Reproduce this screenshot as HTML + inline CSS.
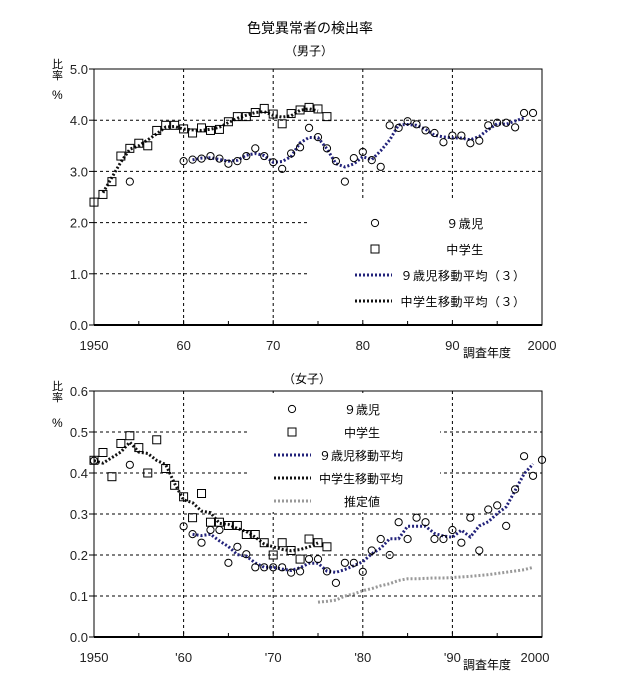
<!DOCTYPE html>
<html><head><meta charset="utf-8">
<style>
html,body{margin:0;padding:0;background:#fff;}
svg{display:block;font-family:"Liberation Sans","Noto Sans CJK JP",sans-serif;}
</style></head>
<body>
<svg id="s" width="618" height="689" viewBox="0 0 618 689" xmlns="http://www.w3.org/2000/svg">
<rect width="618" height="689" fill="#fff"/>
<text x="310" y="33" font-size="14" text-anchor="middle">色覚異常者の検出率</text>
<text x="309" y="55" font-size="12" text-anchor="middle">（男子）</text>
<text x="307" y="383" font-size="12" text-anchor="middle">（女子）</text>
<g id="g"></g>
</svg>
<script>
const NS="http://www.w3.org/2000/svg",g=document.getElementById('g');
function el(t,a,txt){const e=document.createElementNS(NS,t);for(const k in a)e.setAttribute(k,a[k]);if(txt!==undefined)e.textContent=txt;g.appendChild(e);return e;}
const X0=94,X1=542,XS=(X1-X0)/50;
function X(y){return X0+(y-1950)*XS;}
function ma(d){const r=[];for(let i=1;i<d.length-1;i++){r.push([d[i][0],(d[i-1][1]+d[i][1]+d[i+1][1])/3]);}return r;}
function chart(o){
 const Y=v=>o.y0+(v-o.vmin)/(o.vmax-o.vmin)*(o.y1-o.y0);
 o.hg.forEach(h=>{el('line',{x1:X0,y1:Y(h[0]),x2:h[1],y2:Y(h[0]),stroke:'#000','stroke-width':1,'stroke-dasharray':'3,3'});
   if(h[2])el('line',{x1:h[2],y1:Y(h[0]),x2:X1,y2:Y(h[0]),stroke:'#000','stroke-width':1,'stroke-dasharray':'3,3'});});
 [1960,1970,1980,1990].forEach(y=>el('line',{x1:X(y),y1:o.y1,x2:X(y),y2:o.y0,stroke:'#000','stroke-width':1,'stroke-dasharray':'3,3'}));
 el('rect',Object.assign({fill:'#fff'},o.leg));
 el('rect',{x:X0,y:o.y1,width:X1-X0,height:o.y0-o.y1,fill:'none',stroke:'#000','stroke-width':1});
 el('line',{x1:X0,y1:o.y0,x2:X1,y2:o.y0,stroke:'#000','stroke-width':2});
 for(let y=1950;y<=2000;y+=5){el('line',{x1:X(y),y1:o.y0,x2:X(y),y2:o.y0-(y%10?4:5),stroke:'#000'});}
 o.yt.forEach(v=>{el('line',{x1:X0-5,y1:Y(v),x2:X0,y2:Y(v),stroke:'#000'});
   el('text',{x:X0-6,y:Y(v)+5,'font-size':13,'text-anchor':'end',fill:'#222'},v.toFixed(1));});
 el('text',{x:52,y:o.y1-1,'font-size':11},'比');el('text',{x:52,y:o.y1+10,'font-size':11},'率');
 el('text',{x:52,y:o.y1+(o.pct),'font-size':12},'%');
 o.xl.forEach((t,i)=>el('text',{x:(i==5?o.x2000:X(1950+i*10)),y:o.y0+25,'font-size':13,'text-anchor':'middle',fill:'#222'},t));
 el('text',{x:463,y:o.y0+32,'font-size':12},'調査年度');
 function line(d,col,w){el('polyline',{points:d.map(p=>X(p[0])+','+Y(p[1])).join(' '),fill:'none',stroke:col,'stroke-width':w||3,'stroke-dasharray':'2,2'});}
 o.lines.forEach(l=>line(l[0],l[1]));
 o.sq.forEach(p=>el('rect',{x:X(p[0])-4,y:Y(p[1])-4,width:8,height:8,fill:'none',stroke:'#000','stroke-width':1}));
 o.ci.forEach(p=>el('circle',{cx:X(p[0]),cy:Y(p[1]),r:3.6,fill:'none',stroke:'#000','stroke-width':1}));
}
const topS=[2.4,2.55,2.8,3.3,3.45,3.55,3.5,3.8,3.9,3.9,3.83,3.75,3.85,3.8,3.82,3.97,4.07,4.07,4.15,4.23,4.12,3.93,4.13,4.2,4.25,4.22,4.07].map((v,i)=>[1950+i,v]);
const topC=[[1954,2.8]].concat([3.2,3.23,3.25,3.3,3.25,3.15,3.2,3.3,3.45,3.3,3.18,3.05,3.35,3.47,3.85,3.67,3.45,3.2,2.8,3.26,3.38,3.22,3.09,3.9,3.85,3.98,3.92,3.8,3.75,3.57,3.7,3.7,3.55,3.6,3.9,3.95,3.95,3.86,4.14,4.14].map((v,i)=>[1960+i,v]));
chart({y0:325,y1:69,vmin:0,vmax:5,yt:[0,1,2,3,4,5],pct:30,x2000:542,
 hg:[[4,X1],[3,X1],[2,310],[1,310]],leg:{x:312,y:200,width:228,height:123},
 xl:['1950','60','70','80','90','2000'],
 lines:[[ma(topS),'#111'],[ma(topC.slice(1)),'#22227a']],sq:topS,ci:topC});
const botS=[.431,.45,.391,.472,.491,.462,.40,.481,.411,.37,.342,.291,.35,.28,.28,.272,.272,.25,.25,.23,.20,.23,.211,.19,.239,.23,.22].map((v,i)=>[1950+i,v]);
const botC=[[1950,.43],[1954,.42]].concat([.27,.251,.23,.261,.261,.181,.22,.202,.17,.17,.17,.17,.157,.16,.19,.19,.16,.132,.181,.181,.159,.211,.239,.2,.28,.239,.291,.28,.239,.239,.261,.23,.291,.211,.311,.321,.271,.36,.441,.393,.432].map((v,i)=>[1960+i,v]));
const botCma=ma(botC.slice(2));
const est=[[1975,.085],[1976,.087],[1977,.09],[1978,.1],[1979,.105],[1980,.113],[1981,.118],[1982,.125],[1983,.13],[1984,.138],[1985,.142],[1986,.142],[1987,.143],[1988,.144],[1989,.144],[1990,.145],[1992,.148],[1994,.152],[1996,.158],[1998,.164],[1999,.17]];
const Sma=[[1950,.43]].concat(ma(botS));
chart({y0:637,y1:391,vmin:0,vmax:0.6,yt:[0,.1,.2,.3,.4,.5,.6],pct:36,x2000:535,
 hg:[[.5,250,438],[.4,250,438],[.3,X1],[.2,X1],[.1,X1]],leg:{x:266,y:393,width:174,height:119},
 xl:['1950',"'60","'70","'80","'90",'2000'],
 lines:[[est,'#999'],[Sma,'#111'],[botCma,'#22227a']],sq:botS,ci:botC});
function lg(items,fs,ls){items.forEach(it=>{
 if(it.t=='c')el('circle',{cx:it.x,cy:it.y,r:3.6,fill:'none',stroke:'#000'});
 else if(it.t=='s')el('rect',{x:it.x-4,y:it.y-4,width:8,height:8,fill:'none',stroke:'#000'});
 else el('line',{x1:it.x,y1:it.y,x2:it.x+37,y2:it.y,stroke:it.c,'stroke-width':3,'stroke-dasharray':'2,2'});
 el('text',{x:it.lx,y:it.y+5,'font-size':fs,'letter-spacing':ls,'text-anchor':'middle'},it.s);});}
lg([{t:'c',x:375,y:223,lx:465,s:'９歳児'},{t:'s',x:375,y:249,lx:465,s:'中学生'},
 {t:'l',x:355,y:275,c:'#22227a',lx:463,s:'９歳児移動平均（３）'},{t:'l',x:355,y:301,c:'#111',lx:463,s:'中学生移動平均（３）'}],12,0.5);
lg([{t:'c',x:292,y:409,lx:362,s:'９歳児'},{t:'s',x:292,y:432,lx:362,s:'中学生'},
 {t:'l',x:274,y:455,c:'#22227a',lx:361,s:'９歳児移動平均'},{t:'l',x:274,y:478,c:'#111',lx:361,s:'中学生移動平均'},
 {t:'l',x:274,y:501,c:'#999',lx:362,s:'推定値'}],12,0);
</script>
</body></html>
